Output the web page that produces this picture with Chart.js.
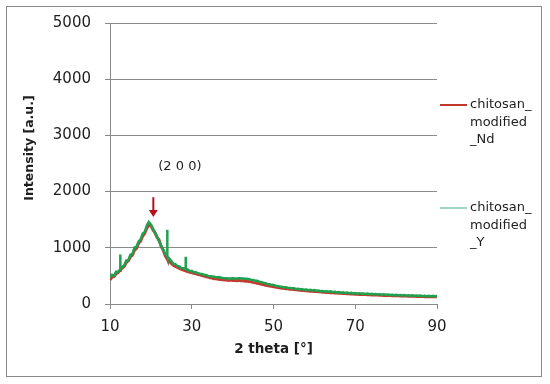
<!DOCTYPE html>
<html lang="en">
<head>
    <meta charset="UTF-8">
    <title>XRD chitosan modified</title>
    <script src="https://cdnjs.cloudflare.com/ajax/libs/Chart.js/4.4.1/chart.umd.min.js"></script>
    <style>
        body { margin: 0; background: #fff; }
        .frame {
            position: absolute;
            left: 6px; top: 6px;
            width: 534px; height: 369px;
            border: 1px solid #8a8a8a;
            pointer-events: none;
        }
        .chart-container {
            position: relative;
            width: 550px;
            height: 384px;
        }
    </style>
</head>
<body>
    <div class="chart-container">
        <canvas id="xrdChart"></canvas>
    </div>
    <div class="frame"></div>

    <script>
        // 2 theta positions (deg), a few extra points where the Y sample has sharp spikes
        const twoTheta = [
            10, 10.5, 11, 11.5, 12, 12.45, 12.5, 12.55, 13, 13.5, 14, 14.5,
            15, 15.5, 16, 16.5, 17, 17.5, 18, 18.5, 19, 19.5,
            20, 20.5, 21, 21.5, 22, 22.5, 23, 23.5, 23.95, 24, 24.05, 24.5,
            25, 25.5, 26, 26.5, 27, 27.5, 28, 28.45, 28.5, 28.55, 29, 29.5,
            30, 30.5, 31, 31.5, 32, 32.5, 33, 33.5, 34, 34.5,
            35, 35.5, 36, 36.5, 37, 37.5, 38, 38.5, 39, 39.5,
            40, 40.5, 41, 41.5, 42, 42.5, 43, 43.5, 44, 44.5,
            45, 45.5, 46, 46.5, 47, 47.5, 48, 48.5, 49, 49.5,
            50, 50.5, 51, 51.5, 52, 52.5, 53, 53.5, 54, 54.5,
            55, 55.5, 56, 56.5, 57, 57.5, 58, 58.5, 59, 59.5,
            60, 60.5, 61, 61.5, 62, 62.5, 63, 63.5, 64, 64.5,
            65, 65.5, 66, 66.5, 67, 67.5, 68, 68.5, 69, 69.5,
            70, 70.5, 71, 71.5, 72, 72.5, 73, 73.5, 74, 74.5,
            75, 75.5, 76, 76.5, 77, 77.5, 78, 78.5, 79, 79.5,
            80, 80.5, 81, 81.5, 82, 82.5, 83, 83.5, 84, 84.5,
            85, 85.5, 86, 86.5, 87, 87.5, 88, 88.5, 89, 89.5,
            90
        ];

        // chitosan_modified_Nd
        const intensityNd = [
            430, 480, 490, 540, 560, 598, 610, 602, 640, 670, 740, 770,
            840, 870, 960, 990, 1080, 1120, 1210, 1260, 1350, 1400,
            1400, 1320, 1270, 1190, 1140, 1030, 960, 860, 807, 800, 795, 765,
            720, 690, 670, 650, 635, 615, 605, 591, 590, 589, 580, 565,
            560, 545, 540, 525, 520, 505, 500, 485, 480, 465,
            462, 450, 448, 440, 436, 430, 428, 425, 420, 425,
            418, 422, 415, 420, 412, 418, 405, 410, 398, 395,
            385, 380, 370, 362, 352, 348, 335, 330, 320, 316,
            308, 302, 295, 290, 282, 280, 272, 270, 264, 262,
            256, 254, 248, 246, 240, 240, 234, 233, 228, 227,
            222, 221, 216, 216, 211, 210, 206, 205, 201, 200,
            196, 196, 192, 191, 187, 187, 183, 183, 179, 179,
            175, 175, 171, 172, 168, 168, 165, 165, 162, 162,
            159, 159, 156, 157, 153, 154, 151, 151, 148, 149,
            146, 147, 144, 144, 141, 142, 139, 140, 137, 138,
            135, 136, 133, 134, 131, 132, 130, 130, 128, 129,
            127
        ];

        // chitosan_modified_Y
        const intensityY = [
            470, 520, 505, 575, 570, 615, 880, 620, 660, 690, 775, 780,
            875, 890, 1005, 1020, 1115, 1150, 1255, 1280, 1395, 1460,
            1410, 1340, 1270, 1190, 1120, 1040, 970, 890, 870, 1320, 850, 810,
            765, 715, 710, 675, 670, 635, 635, 625, 840, 622, 615, 585,
            590, 565, 565, 550, 540, 535, 520, 515, 500, 495,
            490, 485, 475, 475, 470, 465, 460, 460, 455, 455,
            460, 455, 455, 460, 457, 455, 450, 450, 443, 432,
            428, 415, 413, 396, 393, 380, 371, 356, 352, 341,
            337, 326, 320, 311, 307, 299, 297, 289, 287, 279,
            280, 269, 272, 262, 264, 255, 258, 247, 252, 241,
            247, 235, 238, 229, 232, 223, 228, 217, 224, 212,
            218, 207, 214, 202, 208, 197, 204, 193, 200, 189,
            196, 185, 192, 182, 188, 177, 185, 174, 182, 171,
            178, 168, 175, 165, 172, 162, 169, 159, 166, 156,
            163, 153, 160, 151, 158, 148, 155, 146, 153, 143,
            151, 141, 149, 139, 147, 138, 146, 136, 145, 135,
            142
        ];

        const xTicks = [10, 30, 50, 70, 90];
        const yTicks = [0, 1000, 2000, 3000, 4000, 5000];

        // legend text, wrapped like the original
        const legendNd = ['chitosan_', 'modified', '_Nd'];
        const legendY = ['chitosan_', 'modified', '_Y'];

        // (2 0 0) reflection marker
        const peakLabel = '(2 0 0)';
        const peakLabelAt = { x: 27.1, y: 2440 };
        const peakArrowX = 20.6;
        const peakArrowFrom = 1900;
        const peakArrowTo = 1550;

        const yTitle = 'Intensity [a.u.]';
        const xTitle = '2 theta [\u00b0]';

        const toPoints = (xs, ys) => xs.map((x, i) => ({ x: x, y: ys[i] }));

        const gridGray = '#8a8a8a';
        const textColor = '#1e1e1e';

        // extras: y title, annotation and legend drawn on the canvas
        const extrasPlugin = {
            id: 'extras',
            afterDraw(chart) {
                const ctx = chart.ctx;
                const xs = chart.scales.x;
                const ys = chart.scales.y;

                // y axis title
                ctx.save();
                ctx.translate(30, 148);
                ctx.rotate(-Math.PI / 2);
                ctx.font = 'bold 12.5px "DejaVu Sans"';
                ctx.fillStyle = textColor;
                ctx.textAlign = 'center';
                ctx.textBaseline = 'middle';
                ctx.fillText(yTitle, 0, 0);
                ctx.restore();

                // (2 0 0) label
                ctx.save();
                ctx.font = '13px "DejaVu Sans"';
                ctx.fillStyle = textColor;
                ctx.textAlign = 'center';
                ctx.textBaseline = 'middle';
                ctx.fillText(peakLabel, xs.getPixelForValue(peakLabelAt.x), ys.getPixelForValue(peakLabelAt.y));

                // arrow
                const ax = xs.getPixelForValue(peakArrowX);
                const y0 = ys.getPixelForValue(peakArrowFrom);
                const y1 = ys.getPixelForValue(peakArrowTo);
                ctx.strokeStyle = '#b3121b';
                ctx.fillStyle = '#b3121b';
                ctx.lineWidth = 2;
                ctx.beginPath();
                ctx.moveTo(ax, y0);
                ctx.lineTo(ax, y1 - 6);
                ctx.stroke();
                ctx.beginPath();
                ctx.moveTo(ax - 4.5, y1 - 7);
                ctx.lineTo(ax + 4.5, y1 - 7);
                ctx.lineTo(ax, y1);
                ctx.closePath();
                ctx.fill();
                ctx.restore();

                // legend
                const entries = [
                    { lines: legendNd, color: '#c0392b', width: 2, top: 105 },
                    { lines: legendY, color: '#62bfa0', width: 1.2, top: 208 }
                ];
                ctx.save();
                ctx.font = '13px "DejaVu Sans"';
                ctx.fillStyle = textColor;
                ctx.textAlign = 'left';
                ctx.textBaseline = 'middle';
                entries.forEach(e => {
                    ctx.strokeStyle = e.color;
                    ctx.lineWidth = e.width;
                    ctx.beginPath();
                    ctx.moveTo(440, e.top);
                    ctx.lineTo(467, e.top);
                    ctx.stroke();
                    e.lines.forEach((t, i) => ctx.fillText(t, 470, e.top + i * 17.5));
                });
                ctx.restore();
            }
        };

        const ctx = document.getElementById('xrdChart').getContext('2d');
        const xrdChart = new Chart(ctx, {
            type: 'line',
            data: {
                datasets: [{
                    label: 'chitosan_modified_Nd',
                    data: toPoints(twoTheta, intensityNd),
                    borderColor: '#c23b30',
                    borderWidth: 3,
                    pointRadius: 0,
                    tension: 0,
                    order: 1
                }, {
                    label: 'chitosan_modified_Y',
                    data: toPoints(twoTheta, intensityY),
                    borderColor: '#1fa14f',
                    borderWidth: 2.5,
                    pointRadius: 0,
                    tension: 0,
                    order: 0
                }]
            },
            options: {
                responsive: true,
                maintainAspectRatio: false,
                animation: false,
                layout: { padding: { left: 0, right: 113, top: 23, bottom: 0 } },
                plugins: {
                    legend: { display: false },
                    tooltip: { enabled: false }
                },
                scales: {
                    x: {
                        type: 'linear',
                        min: 10,
                        max: 90,
                        afterFit: s => { s.height = 80; },
                        afterBuildTicks: s => { s.ticks = xTicks.map(v => ({ value: v })); },
                        grid: { drawOnChartArea: false, drawTicks: true, tickLength: 5, color: gridGray },
                        border: { color: gridGray },
                        ticks: {
                            padding: 9,
                            color: textColor,
                            font: { family: 'DejaVu Sans', size: 15 },
                            callback: v => String(v)
                        },
                        title: {
                            display: true,
                            text: xTitle,
                            color: textColor,
                            padding: { top: 0, bottom: 26 },
                            font: { family: 'DejaVu Sans', size: 13.5, weight: 'bold' }
                        }
                    },
                    y: {
                        min: 0,
                        max: 5000,
                        afterFit: s => { s.width = 110; },
                        afterBuildTicks: s => { s.ticks = yTicks.map(v => ({ value: v })); },
                        grid: { color: gridGray, tickLength: 5 },
                        border: { color: gridGray },
                        ticks: {
                            padding: 14,
                            color: textColor,
                            font: { family: 'DejaVu Sans', size: 15 },
                            callback: v => String(v)
                        }
                    }
                }
            },
            plugins: [extrasPlugin]
        });
    </script>
</body>
</html>
